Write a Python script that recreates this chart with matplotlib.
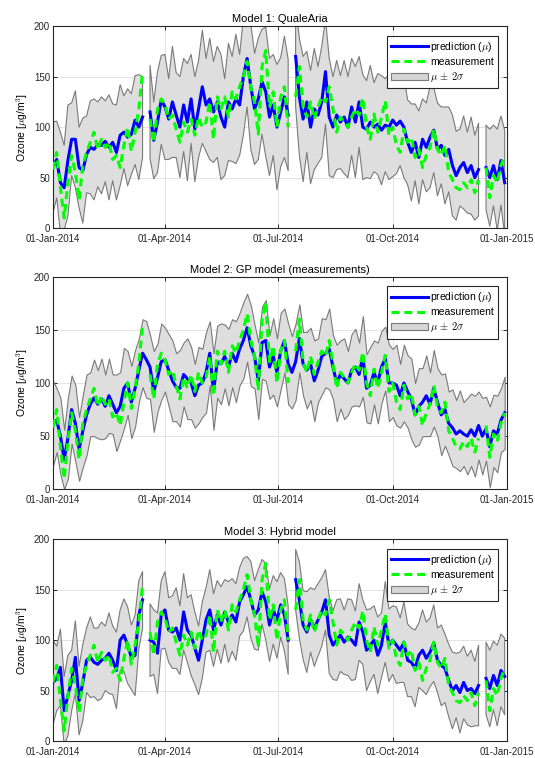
import numpy as np
import pandas as pd
import matplotlib
matplotlib.use("Agg")
import matplotlib.pyplot as plt
import matplotlib.dates as mdates
from matplotlib.lines import Line2D
from matplotlib.patches import Patch

plt.rcParams['font.family'] = ['Liberation Sans', 'DejaVu Sans']
plt.rcParams['mathtext.fontset'] = 'cm'

nan = np.nan

# sample dates (every 3rd day of 2014)
dates = pd.date_range('2014-01-01', periods=122, freq='3D')

# measured ozone (shared by all panels)
measurement = [58, 75, 40, 10, 45, 72, 55, 28, 62, 75, 85, 95, 78, 88, 80, 85, 68, 72, 60, 82,
               100, 76, 95, 118, 155, nan, 108, 85, 118, 128, 122, 108, 112, 98, 85, 105, 95, 108, 92, 110,
               100, 105, 125, 88, 130, 118, 130, 110, 135, 128, 140, 150, 165, 140, 125, 93, 160, 176, 120, 135,
               100, 130, 140, 100, nan, 130, 160, 120, 110, 125, 108, 120, 130, 125, 140, 118, 95, 110, 105, 100,
               110, 118, 112, 129, 100, 88, 113, 95, 110, 126, 92, 100, 82, 75, 98, 85, 90, 70, 78, 60,
               72, 80, 98, 78, 72, 82, 55, 48, 40, 38, 45, 40, 48, 35, 48, nan, 60, 30, 52, 45,
               62, 72]

# Model 1: QualeAria
pred_qa = [60, 68, 45, 40, 67, 88, 88, 60, 57, 73, 80, 78, 83, 82, 86, 80, 85, 75, 92, 95,
           90, 93, 107, 100, 110, nan, 115, 87, 105, 127, 120, 108, 125, 112, 100, 122, 105, 128, 98, 118,
           140, 122, 128, 115, 125, 110, 100, 125, 118, 128, 122, 150, 168, 140, 118, 128, 145, 135, 110, 122,
           100, 115, 130, 112, nan, 170, 130, 108, 125, 100, 118, 112, 125, 155, 110, 100, 112, 105, 110, 100,
           120, 105, 125, 100, 98, 105, 100, 103, 97, 102, 100, 107, 102, 106, 100, 85, 75, 85, 70, 88,
           80, 90, 97, 78, 82, 72, 78, 62, 52, 60, 65, 55, 62, 50, 58, nan, 60, 50, 62, 48,
           67, 45]
hw_qa = [45, 38, 50, 42, 55, 36, 48, 40, 52, 38, 46, 50, 42, 48, 40, 52, 38, 47, 50, 36,
         48, 40, 44, 52, 40, 40, 46, 38, 50, 44, 52, 40, 55, 42, 50, 46, 58, 44, 52, 48,
         56, 46, 60, 50, 55, 62, 48, 58, 52, 64, 50, 58, 48, 62, 55, 60, 52, 64, 58, 50,
         62, 54, 60, 55, 55, 50, 58, 62, 50, 56, 60, 48, 55, 52, 58, 50, 54, 46, 56, 50,
         48, 55, 45, 52, 48, 56, 44, 50, 54, 46, 52, 56, 48, 44, 50, 42, 48, 38, 46, 40,
         44, 50, 42, 46, 38, 48, 42, 50, 44, 38, 46, 40, 48, 42, 46, 46, 42, 48, 40, 50,
         44, 52]

# Model 2: GP model (measurements)
pred_gp = [62, 65, 50, 28, 48, 75, 62, 38, 55, 70, 80, 86, 80, 85, 78, 88, 80, 72, 78, 95,
           100, 82, 95, 112, 128, 122, 115, 92, 105, 120, 122, 112, 102, 96, 95, 108, 104, 100, 88, 98,
           100, 110, 128, 92, 120, 118, 125, 115, 128, 120, 132, 140, 152, 135, 125, 102, 138, 140, 115, 125,
           110, 130, 140, 118, 110, 120, 142, 118, 112, 118, 102, 112, 125, 128, 132, 115, 100, 108, 104, 100,
           112, 115, 108, 125, 95, 98, 110, 100, 115, 123, 100, 100, 98, 88, 100, 92, 85, 70, 78, 82,
           88, 80, 95, 82, 70, 75, 62, 58, 52, 55, 52, 50, 56, 50, 60, 50, 57, 40, 55, 52,
           65, 72]
hw_gp = [40, 30, 36, 28, 38, 32, 36, 30, 34, 38, 30, 36, 32, 38, 30, 35, 28, 36, 32, 38,
         30, 34, 36, 30, 32, 36, 30, 38, 32, 36, 30, 34, 38, 32, 36, 30, 38, 34, 30, 36,
         32, 38, 30, 36, 34, 38, 30, 36, 32, 38, 34, 36, 32, 38, 30, 36, 34, 38, 30, 36,
         32, 36, 30, 38, 34, 36, 32, 30, 36, 34, 38, 30, 36, 32, 38, 30, 36, 32, 38, 30,
         34, 36, 30, 38, 32, 36, 30, 38, 34, 30, 36, 32, 38, 30, 36, 34, 38, 30, 36, 32,
         38, 30, 36, 32, 38, 34, 30, 36, 32, 38, 30, 36, 34, 38, 32, 36, 30, 38, 34, 36,
         30, 34]

# Model 3: Hybrid model
pred_hy = [58, 62, 73, 30, 45, 60, 83, 40, 58, 80, 83, 78, 76, 80, 82, 87, 80, 70, 100, 105,
           95, 83, 85, 125, 140, nan, 100, 98, 87, 125, 130, 110, 108, 112, 100, 128, 110, 105, 92, 80,
           100, 120, 130, 110, 125, 115, 128, 118, 125, 118, 138, 145, 153, 140, 125, 130, 148, 138, 115, 130,
           120, 135, 125, 100, nan, 160, 140, 115, 108, 120, 112, 120, 128, 140, 105, 95, 100, 105, 98, 103,
           100, 95, 118, 108, 90, 95, 100, 85, 95, 118, 95, 100, 95, 90, 98, 80, 78, 72, 85, 90,
           82, 88, 97, 80, 75, 72, 60, 50, 55, 48, 58, 50, 52, 47, 55, nan, 62, 52, 65, 55,
           70, 64]
hw_hy = [42, 32, 38, 34, 40, 30, 36, 34, 38, 32, 40, 34, 36, 38, 32, 40, 34, 38, 30, 36,
         38, 32, 40, 34, 28, 34, 36, 32, 40, 34, 38, 32, 36, 40, 34, 38, 32, 40, 36, 34,
         38, 32, 40, 36, 34, 38, 32, 40, 36, 38, 34, 36, 30, 38, 34, 40, 32, 38, 36, 34,
         38, 32, 36, 34, 34, 30, 38, 34, 40, 32, 38, 36, 34, 30, 38, 34, 40, 36, 32, 38,
         40, 34, 38, 32, 40, 36, 34, 38, 32, 40, 36, 34, 38, 32, 40, 36, 34, 38, 32, 40,
         36, 34, 38, 32, 40, 34, 36, 38, 32, 40, 36, 34, 38, 32, 40, 40, 36, 38, 34, 40,
         36, 38]

titles = ['Model 1: QualeAria', 'Model 2: GP model (measurements)', 'Model 3: Hybrid model']
preds = [pred_qa, pred_gp, pred_hy]
halfwidths = [hw_qa, hw_gp, hw_hy]

fig = plt.figure(figsize=(5.35, 7.58), dpi=100)
boxes = [[0.099, 0.699, 0.849, 0.2665],
         [0.099, 0.3545, 0.849, 0.2805],
         [0.099, 0.0225, 0.849, 0.266]]

grey_edge = '#7a7a7a'
band_fill = '#dedede'
dash = (0, (2.6, 1.6))

for box, title, pred, hw in zip(boxes, titles, preds, halfwidths):
    ax = fig.add_axes(box)
    mu = np.array(pred, dtype=float)
    s2 = np.array(hw, dtype=float)
    ax.fill_between(dates, mu - s2, mu + s2, facecolor=band_fill,
                    edgecolor=grey_edge, linewidth=0.8, zorder=2)
    ax.plot(dates, mu, color='#0000ff', linewidth=2.2, zorder=3)
    ax.plot(dates, measurement, color='#00ff00', linewidth=2.2,
            linestyle=dash, zorder=4)

    ax.set_xlim(pd.Timestamp('2014-01-01'), pd.Timestamp('2015-01-01'))
    ax.set_ylim(0, 200)
    ax.set_yticks([0, 50, 100, 150, 200])
    ax.set_xticks(pd.to_datetime(['2014-01-01', '2014-04-01', '2014-07-01',
                                  '2014-10-01', '2015-01-01']))
    ax.xaxis.set_major_formatter(mdates.DateFormatter('%d-%b-%Y'))
    ax.grid(True, color='#e3e3e3', linewidth=0.7, zorder=0)
    ax.set_axisbelow(True)
    ax.tick_params(direction='in', length=3, width=0.7, labelsize=7,
                   top=True, right=True, colors='#262626')
    ax.tick_params(axis='x', pad=4)
    ax.tick_params(axis='y', pad=2)
    for sp in ax.spines.values():
        sp.set_color('#262626')
        sp.set_linewidth(0.8)
    ax.set_ylabel(r'Ozone [$\mu$g/m$^3$]', fontsize=7.5, labelpad=3)
    ax.set_title(title, fontsize=8, pad=3)

    handles = [Line2D([], [], color='#0000ff', linewidth=2.2),
               Line2D([], [], color='#00ff00', linewidth=2.2, linestyle=dash),
               Patch(facecolor='#d6d6d6', edgecolor=grey_edge, linewidth=0.8)]
    labels = [r'prediction ($\mu$)', 'measurement', r'$\mu\,\pm\,2\sigma$']
    leg = ax.legend(handles, labels, loc='upper right', fontsize=7.5, frameon=True,
                    fancybox=False, edgecolor='#262626', framealpha=1,
                    handlelength=3.6, handletextpad=0.15, borderpad=0.4,
                    labelspacing=0.3, borderaxespad=0.9)
    leg.get_frame().set_linewidth(0.8)
    leg.set_zorder(10)

fig.savefig('out.png', dpi=100)
